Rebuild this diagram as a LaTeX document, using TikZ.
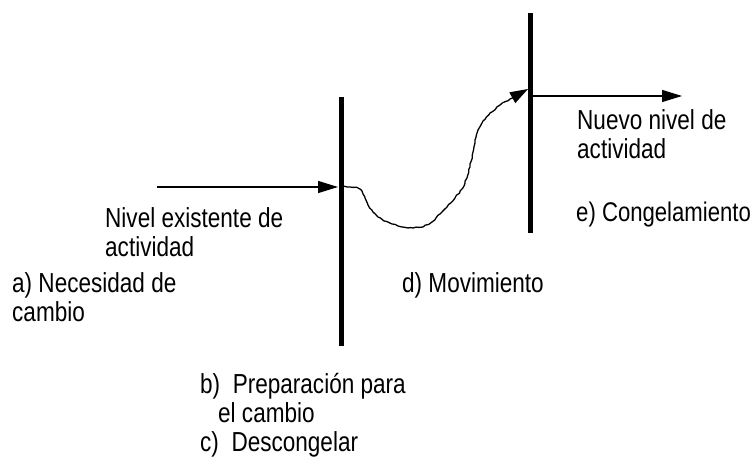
\documentclass[tikz,border=0pt]{standalone}
\usepackage{fontspec}
\setmainfont[FakeStretch=0.82]{Liberation Sans}
\usetikzlibrary{arrows.meta, decorations.pathmorphing}

\begin{document}
\begin{tikzpicture}[x=1pt, y=-1pt,
        bar/.style={line width=5pt},
        flow/.style={line width=1.4pt, -{Triangle[length=20pt, width=12pt]}},
        lbl/.style={anchor=base west, inner sep=0pt, align=left,
            font=\fontsize{27.5}{29}\selectfont}]
    \useasboundingbox (0,0) rectangle (752,462);
    \pgfmathsetseed{7}
    % the two barriers
    \coordinate (ltop) at (341,97);
    \coordinate (lbot) at (341,346);
    \coordinate (rtop) at (530,13);
    \coordinate (rbot) at (530,233);
    \draw[bar] (ltop) -- (lbot);
    \draw[bar] (rtop) -- (rbot);

    % levels
    \coordinate (oldstart) at (157,187);
    \coordinate (oldend) at (338,187);
    \coordinate (newstart) at (530,96);
    \coordinate (newend) at (682,96);
    \draw[flow] (oldstart) -- (oldend);
    \draw[flow] (newstart) -- (newend);

    % movement
    \coordinate (movestart) at (341,186);
    \coordinate (moveend) at (528,89);
    \draw[line width=1.3pt, line join=round, -{Triangle[length=18pt, width=12pt]},
        decorate, decoration={random steps, segment length=3pt, amplitude=0.6pt,
            post length=6pt}]
        (movestart) -- (350,187) -- (358,188) -- (362,191) -- (365,198)
        -- (368,205) -- (373,212) -- (378,217) -- (384,221) -- (392,224)
        -- (402,227) -- (413,228) -- (423,227) -- (432,222) -- (440,214)
        -- (447,207) -- (455,198) -- (462,189) -- (467,178) -- (470,167)
        -- (473,152) -- (475,140) -- (478,130) -- (483,121) -- (490,113)
        -- (500,105) -- (510,99) -- (moveend);

    % labels (base = last line)
    \node[lbl] (exist) at (105,257) {Nivel existente de\\actividad};
    \node[lbl] (need) at (12,321) {a) Necesidad de\\cambio};
    \node[lbl] (move) at (402,292) {d) Movimiento};
    \node[lbl] (prep) at (200,451) {b)~~Preparación para\\\hspace*{18pt}el cambio\\c)~~Descongelar};
    \node[lbl] (new) at (577,159) {Nuevo nivel de\\actividad};
    \node[lbl, font=\fontsize{27}{29}\selectfont] (freeze) at (576,222) {e) Congelamiento};
\end{tikzpicture}
\end{document}
